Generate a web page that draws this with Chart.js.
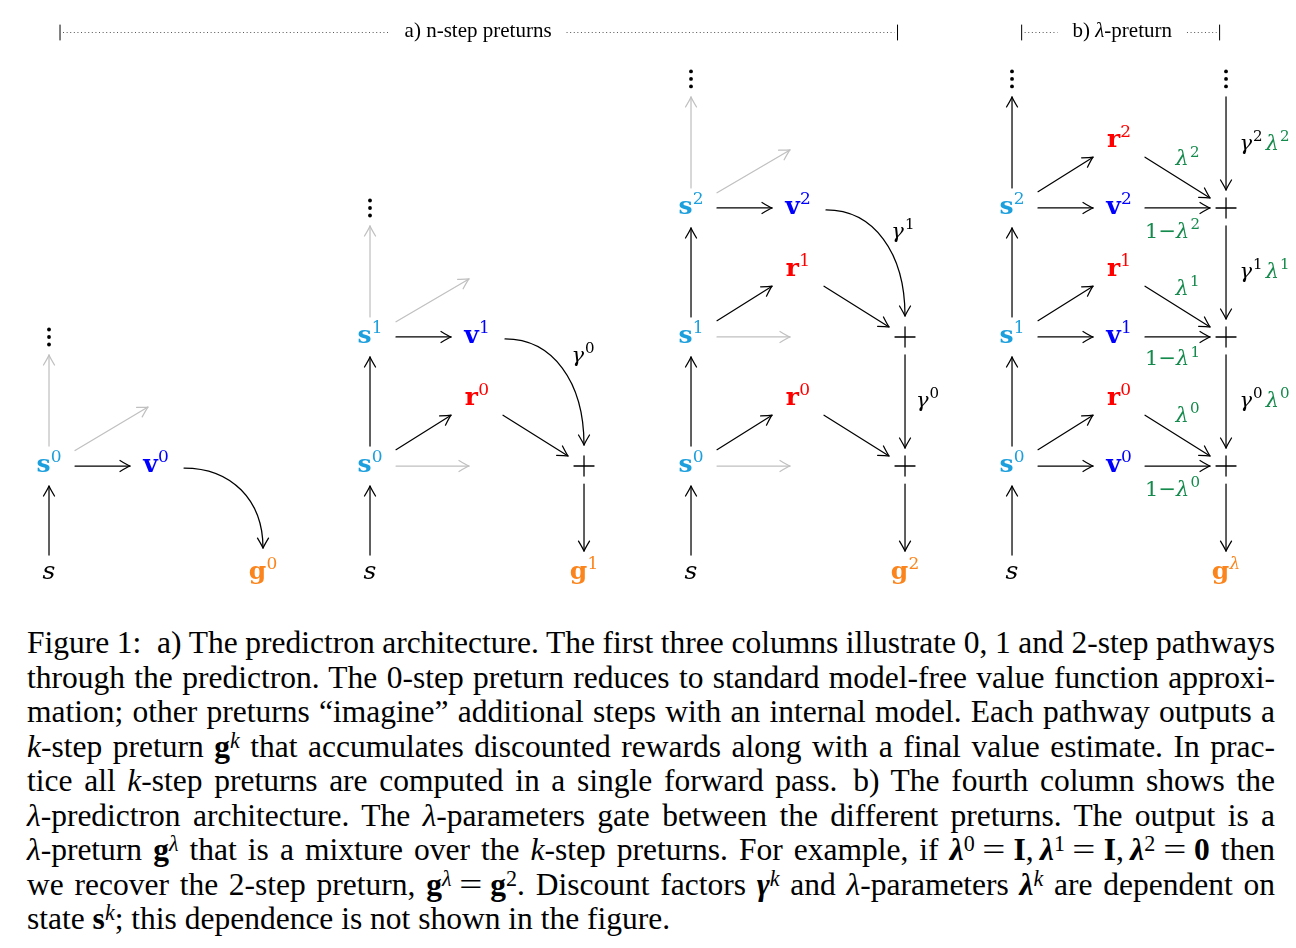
<!DOCTYPE html>
<html>
<head>
<meta charset="utf-8">
<script src="https://cdn.jsdelivr.net/npm/chart.js@4.4.1/dist/chart.umd.min.js"></script>
<style>
  body { margin: 0; background: #fff; width: 1296px; height: 948px; overflow: hidden; }
  #wrap { position: absolute; left: 0; top: 0; width: 1296px; height: 610px; }
  #caption { position: absolute; left: 27px; top: 626px; width: 1248px;
    font-family: "Liberation Serif", "Times New Roman", serif; font-size: 31.5px;
    line-height: 34.5px; color: #000; }
  #caption div { white-space: nowrap; }
  #caption sup { font-size: 0.7em; line-height: 0; vertical-align: 0.42em; }
  #caption .eq { display: inline-block; transform: scaleX(1.3); }
</style>
</head>
<body>
<div id="wrap"><canvas id="diagram" width="1296" height="610"></canvas></div>
<div id="caption">
<div class="j"><span>Figure 1:&ensp;a) The predictron architecture. The first three columns illustrate 0, 1 and 2-step pathways</span></div>
<div class="j"><span>through the predictron. The 0-step preturn reduces to standard model-free value function approxi-</span></div>
<div class="j"><span>mation; other preturns “imagine” additional steps with an internal model. Each pathway outputs a</span></div>
<div class="j"><span><i>k</i>-step preturn <b>g</b><sup><i>k</i></sup> that accumulates discounted rewards along with a final value estimate. In prac-</span></div>
<div class="j"><span>tice all <i>k</i>-step preturns are computed in a single forward pass.&ensp;b) The fourth column shows the</span></div>
<div class="j"><span><i>λ</i>-predictron architecture. The <i>λ</i>-parameters gate between the different preturns. The output is a</span></div>
<div class="j"><span><i>λ</i>-preturn <b>g</b><sup><i>λ</i></sup> that is a mixture over the <i>k</i>-step preturns. For example, if <b><i>λ</i></b><sup>0</sup>&#x2004;<span class="eq">=</span>&#x2004;<b>I</b>,&#x2009;<b><i>λ</i></b><sup>1</sup>&#x2004;<span class="eq">=</span>&#x2004;<b>I</b>,&#x2009;<b><i>λ</i></b><sup>2</sup>&#x2004;<span class="eq">=</span>&#x2004;<b>0</b> then</span></div>
<div class="j"><span>we recover the 2-step preturn, <b>g</b><sup><i>λ</i></sup>&#x2004;<span class="eq">=</span>&#x2004;<b>g</b><sup>2</sup>. Discount factors <b><i>γ</i></b><sup><i>k</i></sup> and <i>λ</i>-parameters <b><i>λ</i></b><sup><i>k</i></sup> are dependent on</span></div>
<div><span>state <b>s</b><sup><i>k</i></sup>; this dependence is not shown in the figure.</span></div>
</div>
<script>
// nodes: [id, column, layer, kind, superscript]
// column: state / value+reward / sum column of each panel, layer: step k
const panelA0 = [
  ['a0.s', 0, -0.83, 'in', ''],
  ['a0.s0', 0, 0, 's', '0'],
  ['a0.v0', 1, 0, 'v', '0'],
  ['a0.g', 2, -0.83, 'g', '0'],
  ['a0.dots', 0, 1, 'dots', ''],
  ['a0.p', 0.925, 0.457, 'pt', '']
];
const panelA1 = [
  ['a1.s', 3, -0.83, 'in', ''],
  ['a1.s0', 3, 0, 's', '0'],
  ['a1.p0', 3.925, 0, 'pt', ''],
  ['a1.r0', 4, 0.52, 'r', '0'],
  ['a1.s1', 3, 1, 's', '1'],
  ['a1.v1', 4, 1, 'v', '1'],
  ['a1.p1', 3.925, 1.45, 'pt', ''],
  ['a1.dots', 3, 2, 'dots', ''],
  ['a1.sum0', 5, 0, 'plus', ''],
  ['a1.g', 5, -0.83, 'g', '1']
];
const panelA2 = [
  ['a2.s', 6, -0.83, 'in', ''],
  ['a2.s0', 6, 0, 's', '0'],
  ['a2.p0', 6.925, 0, 'pt', ''],
  ['a2.r0', 7, 0.52, 'r', '0'],
  ['a2.s1', 6, 1, 's', '1'],
  ['a2.p1', 6.925, 1, 'pt', ''],
  ['a2.r1', 7, 1.52, 'r', '1'],
  ['a2.s2', 6, 2, 's', '2'],
  ['a2.v2', 7, 2, 'v', '2'],
  ['a2.p2', 6.925, 2.45, 'pt', ''],
  ['a2.dots', 6, 3, 'dots', ''],
  ['a2.sum0', 8, 0, 'plus', ''],
  ['a2.sum1', 8, 1, 'plus', ''],
  ['a2.g', 8, -0.83, 'g', '2']
];
const panelB = [
  ['b.s', 9, -0.83, 'in', ''],
  ['b.s0', 9, 0, 's', '0'],
  ['b.v0', 10, 0, 'v', '0'],
  ['b.r0', 10, 0.52, 'r', '0'],
  ['b.s1', 9, 1, 's', '1'],
  ['b.v1', 10, 1, 'v', '1'],
  ['b.r1', 10, 1.52, 'r', '1'],
  ['b.s2', 9, 2, 's', '2'],
  ['b.v2', 10, 2, 'v', '2'],
  ['b.r2', 10, 2.52, 'r', '2'],
  ['b.dots', 9, 3, 'dots', ''],
  ['b.dotsSum', 11, 3, 'dots', ''],
  ['b.sum0', 11, 0, 'plus', ''],
  ['b.sum1', 11, 1, 'plus', ''],
  ['b.sum2', 11, 2, 'plus', ''],
  ['b.g', 11, -0.83, 'g', 'λ']
];

// edges: [from, to, kind]  kind: line | ghost | curve
const edgesA0 = [
  ['a0.s', 'a0.s0', 'line'], ['a0.s0', 'a0.v0', 'line'], ['a0.s0', 'a0.dots', 'ghost'],
  ['a0.s0', 'a0.p', 'ghost'], ['a0.v0', 'a0.g', 'curve']
];
const edgesA1 = [
  ['a1.s', 'a1.s0', 'line'], ['a1.s0', 'a1.s1', 'line'], ['a1.s1', 'a1.dots', 'ghost'],
  ['a1.s1', 'a1.p1', 'ghost'], ['a1.s0', 'a1.p0', 'ghost'], ['a1.s0', 'a1.r0', 'line'],
  ['a1.r0', 'a1.sum0', 'line'], ['a1.s1', 'a1.v1', 'line'], ['a1.v1', 'a1.sum0', 'curve'],
  ['a1.sum0', 'a1.g', 'line']
];
const edgesA2 = [
  ['a2.s', 'a2.s0', 'line'], ['a2.s0', 'a2.s1', 'line'], ['a2.s1', 'a2.s2', 'line'],
  ['a2.s2', 'a2.dots', 'ghost'], ['a2.s2', 'a2.p2', 'ghost'], ['a2.s1', 'a2.p1', 'ghost'],
  ['a2.s0', 'a2.p0', 'ghost'], ['a2.s0', 'a2.r0', 'line'], ['a2.s1', 'a2.r1', 'line'],
  ['a2.r0', 'a2.sum0', 'line'], ['a2.r1', 'a2.sum1', 'line'], ['a2.s2', 'a2.v2', 'line'],
  ['a2.v2', 'a2.sum1', 'curve'], ['a2.sum1', 'a2.sum0', 'line'], ['a2.sum0', 'a2.g', 'line']
];
const edgesB = [
  ['b.s', 'b.s0', 'line'], ['b.s0', 'b.s1', 'line'], ['b.s1', 'b.s2', 'line'], ['b.s2', 'b.dots', 'line'],
  ['b.s0', 'b.v0', 'line'], ['b.s0', 'b.r0', 'line'], ['b.s1', 'b.v1', 'line'], ['b.s1', 'b.r1', 'line'],
  ['b.s2', 'b.v2', 'line'], ['b.s2', 'b.r2', 'line'],
  ['b.v0', 'b.sum0', 'line'], ['b.r0', 'b.sum0', 'line'], ['b.v1', 'b.sum1', 'line'], ['b.r1', 'b.sum1', 'line'],
  ['b.v2', 'b.sum2', 'line'], ['b.r2', 'b.sum2', 'line'],
  ['b.dotsSum', 'b.sum2', 'line'], ['b.sum2', 'b.sum1', 'line'], ['b.sum1', 'b.sum0', 'line'], ['b.sum0', 'b.g', 'line']
];

// edge weights: [column, layer, superscript]
const gammaLabels = [[4.99, 0.85, '0'], [8.21, 0.50, '0'], [7.98, 1.81, '1']];
const lambdaLabels = [[10.64, 2.37, '2'], [10.64, 1.37, '1'], [10.64, 0.38, '0']];
const oneMinusLambdaLabels = [[10.50, 1.81, '2'], [10.50, 0.82, '1'], [10.50, -0.19, '0']];
const gammaLambdaLabels = [[11.36, 2.49, '2'], [11.36, 1.50, '1'], [11.36, 0.50, '0']];

// header brackets: [title, left column, right column, title column]
const headerLayer = 3.36;
const headers = [['a) n-step preturns', 0.103, 7.93, 4.01], ['b) λ-preturn', 9.09, 10.94, 10.03]];

const COLORS = { in: '#000', s: '#1c9fdd', v: '#0000ff', r: '#ff0000', g: '#fb851c' };
const GREEN = '#148a4c';
const GHOST = '#c0c0c0';
const BOX = { in: [10, 18], s: [26, 20], v: [26, 20], r: [26, 20], g: [26, 22], plus: [16, 18], dots: [8, 18], pt: [0, 0] };

const allNodes = [...panelA0, ...panelA1, ...panelA2, ...panelB];
const allEdges = [...edgesA0, ...edgesA1, ...edgesA2, ...edgesB];
const nodeIndex = {};
allNodes.forEach((n, i) => { nodeIndex[n[0]] = i; });

const SERIF = '"DejaVu Serif"';

function boxT(dx, dy, box) {
  let t = Infinity;
  if (dx) t = Math.min(t, box[0] / Math.abs(dx));
  if (dy) t = Math.min(t, box[1] / Math.abs(dy));
  return t === Infinity ? 0 : t;
}

function arrowHead(ctx, x, y, ang) {
  ctx.save();
  ctx.translate(x, y);
  ctx.rotate(ang);
  ctx.beginPath();
  ctx.moveTo(-10, -5.5);
  ctx.quadraticCurveTo(-3, -1.3, 0, 0);
  ctx.quadraticCurveTo(-3, 1.3, -10, 5.5);
  ctx.stroke();
  ctx.restore();
}

// segs: [text, font, color, isSup, gapAfter]
function rich(ctx, cx, cy, segs, size) {
  let w = 0;
  const widths = segs.map(s => {
    ctx.font = s[1];
    const m = ctx.measureText(s[0]).width;
    w += m + (s[4] || 0);
    return m;
  });
  let x = cx - w / 2;
  const base = cy + size * 0.25;
  ctx.textAlign = 'left';
  ctx.textBaseline = 'alphabetic';
  segs.forEach((s, i) => {
    ctx.font = s[1];
    ctx.fillStyle = s[2];
    ctx.fillText(s[0], x, s[3] ? base - size * 0.42 : base);
    x += widths[i] + (s[4] || 0);
  });
}

const diagramPlugin = {
  id: 'diagram',
  afterDatasetsDraw(chart) {
    const ctx = chart.ctx;
    const pts = chart.getDatasetMeta(0).data;
    const xs = chart.scales.x, ys = chart.scales.y;
    ctx.save();
    ctx.lineCap = 'round';
    ctx.lineJoin = 'round';

    // edges
    allEdges.forEach(([from, to, kind]) => {
      const na = allNodes[nodeIndex[from]], nb = allNodes[nodeIndex[to]];
      const a = pts[nodeIndex[from]], b = pts[nodeIndex[to]];
      ctx.strokeStyle = kind === 'ghost' ? GHOST : '#000';
      ctx.lineWidth = 1.25;
      if (kind === 'curve') {
        const sx = a.x + 28, sy = a.y + 2;
        const ex = b.x, ey = b.y - BOX[nb[3]][1] - 3;
        const dx = ex - sx, dy = ey - sy;
        const c1x = sx + dx * 0.6, c1y = sy, c2x = ex, c2y = ey - dy * 0.6;
        ctx.beginPath();
        ctx.moveTo(sx, sy);
        ctx.bezierCurveTo(c1x, c1y, c2x, c2y, ex, ey);
        ctx.stroke();
        arrowHead(ctx, ex, ey, Math.atan2(ey - c2y, ex - c2x));
      } else {
        const dx = b.x - a.x, dy = b.y - a.y;
        const ta = boxT(dx, dy, BOX[na[3]]), tb = boxT(dx, dy, BOX[nb[3]]);
        const x1 = a.x + dx * ta, y1 = a.y + dy * ta, x2 = b.x - dx * tb, y2 = b.y - dy * tb;
        ctx.beginPath();
        ctx.moveTo(x1, y1);
        ctx.lineTo(x2, y2);
        ctx.stroke();
        arrowHead(ctx, x2, y2, Math.atan2(dy, dx));
      }
    });

    // node labels
    allNodes.forEach((n, i) => {
      const p = pts[i], kind = n[3];
      if (kind === 'pt') return;
      if (kind === 'dots') {
        ctx.fillStyle = '#000';
        [-7.5, 0, 7.5].forEach(o => {
          ctx.beginPath();
          ctx.arc(p.x, p.y + o, 1.9, 0, Math.PI * 2);
          ctx.fill();
        });
        return;
      }
      if (kind === 'plus') {
        ctx.strokeStyle = '#000';
        ctx.lineWidth = 1.3;
        ctx.beginPath();
        ctx.moveTo(p.x - 10, p.y); ctx.lineTo(p.x + 10, p.y);
        ctx.moveTo(p.x, p.y - 10); ctx.lineTo(p.x, p.y + 10);
        ctx.stroke();
        return;
      }
      if (kind === 'in') {
        rich(ctx, p.x, p.y, [['s', 'italic 25px ' + SERIF, '#000']], 25);
        return;
      }
      const col = COLORS[kind];
      const supFont = (n[4] === 'λ' ? 'italic ' : '') + '17px ' + SERIF;
      rich(ctx, p.x, p.y, [[kind, 'bold 25px ' + SERIF, col, false, 0.3], [n[4], supFont, col, true]], 25);
    });

    // edge weights
    const gf = 'italic 21px ' + SERIF, rf = '21px ' + SERIF, sf = '15px ' + SERIF;
    const at = (c, l) => [xs.getPixelForValue(c), ys.getPixelForValue(l)];
    gammaLabels.forEach(([c, l, k]) => {
      const [x, y] = at(c, l);
      rich(ctx, x, y, [['γ', gf, '#000', false, 1], [k, sf, '#000', true]], 21);
    });
    lambdaLabels.forEach(([c, l, k]) => {
      const [x, y] = at(c, l);
      rich(ctx, x, y, [['λ', gf, GREEN, false, 1], [k, sf, GREEN, true]], 21);
    });
    oneMinusLambdaLabels.forEach(([c, l, k]) => {
      const [x, y] = at(c, l);
      rich(ctx, x, y, [['1', rf, GREEN], ['−', rf, GREEN], ['λ', gf, GREEN, false, 1], [k, sf, GREEN, true]], 21);
    });
    gammaLambdaLabels.forEach(([c, l, k]) => {
      const [x, y] = at(c, l);
      rich(ctx, x, y, [['γ', gf, '#000', false, 1], [k, sf, '#000', true, 3],
        ['λ', gf, GREEN, false, 1], [k, sf, GREEN, true]], 21);
    });

    // header brackets
    const hy = ys.getPixelForValue(headerLayer);
    const tf = '21px "Liberation Serif"', tfi = 'italic 21px "Liberation Serif"';
    headers.forEach(([title, c0, c1, ct]) => {
      const x0 = xs.getPixelForValue(c0), x1 = xs.getPixelForValue(c1), xt = xs.getPixelForValue(ct);
      const segs = title.startsWith('b)')
        ? [['b) ', tf, '#000'], ['λ', tfi, '#000'], ['-preturn', tf, '#000']]
        : [[title, tf, '#000']];
      let tw = 0;
      segs.forEach(s => { ctx.font = s[1]; tw += ctx.measureText(s[0]).width; });
      rich(ctx, xt, hy - 1, segs, 21);
      ctx.strokeStyle = '#000';
      ctx.lineWidth = 1;
      ctx.beginPath();
      ctx.moveTo(x0, hy - 7.5); ctx.lineTo(x0, hy + 7.5);
      ctx.moveTo(x1, hy - 7.5); ctx.lineTo(x1, hy + 7.5);
      ctx.stroke();
      ctx.save();
      ctx.setLineDash([1, 2.6]);
      ctx.lineCap = 'butt';
      ctx.strokeStyle = '#555';
      ctx.beginPath();
      ctx.moveTo(x0 + 3, hy); ctx.lineTo(xt - tw / 2 - 15, hy);
      ctx.moveTo(xt + tw / 2 + 15, hy); ctx.lineTo(x1 - 3, hy);
      ctx.stroke();
      ctx.restore();
    });
    ctx.restore();
  }
};

new Chart(document.getElementById('diagram'), {
  type: 'scatter',
  data: {
    datasets: [{
      label: 'nodes',
      data: allNodes.map(n => ({ x: n[1], y: n[2] })),
      pointRadius: 0,
      pointHoverRadius: 0
    }]
  },
  options: {
    responsive: false,
    animation: false,
    events: [],
    layout: { padding: 0 },
    plugins: { legend: { display: false }, tooltip: { enabled: false } },
    scales: {
      x: { type: 'linear', min: -0.458, max: 11.654, display: false },
      y: { type: 'linear', min: -1.116, max: 3.612, display: false }
    }
  },
  plugins: [diagramPlugin]
});

// justify caption lines to the full column width
function justifyCaption() {
  const target = 1248;
  document.querySelectorAll('#caption .j').forEach(line => {
    const span = line.firstElementChild;
    line.style.wordSpacing = '0px';
    const w = span.getBoundingClientRect().width;
    const n = (span.textContent.match(/ /g) || []).length;
    if (n) line.style.wordSpacing = ((target - w) / n) + 'px';
  });
}
justifyCaption();
if (document.fonts && document.fonts.ready) document.fonts.ready.then(justifyCaption);
</script>
</body>
</html>
